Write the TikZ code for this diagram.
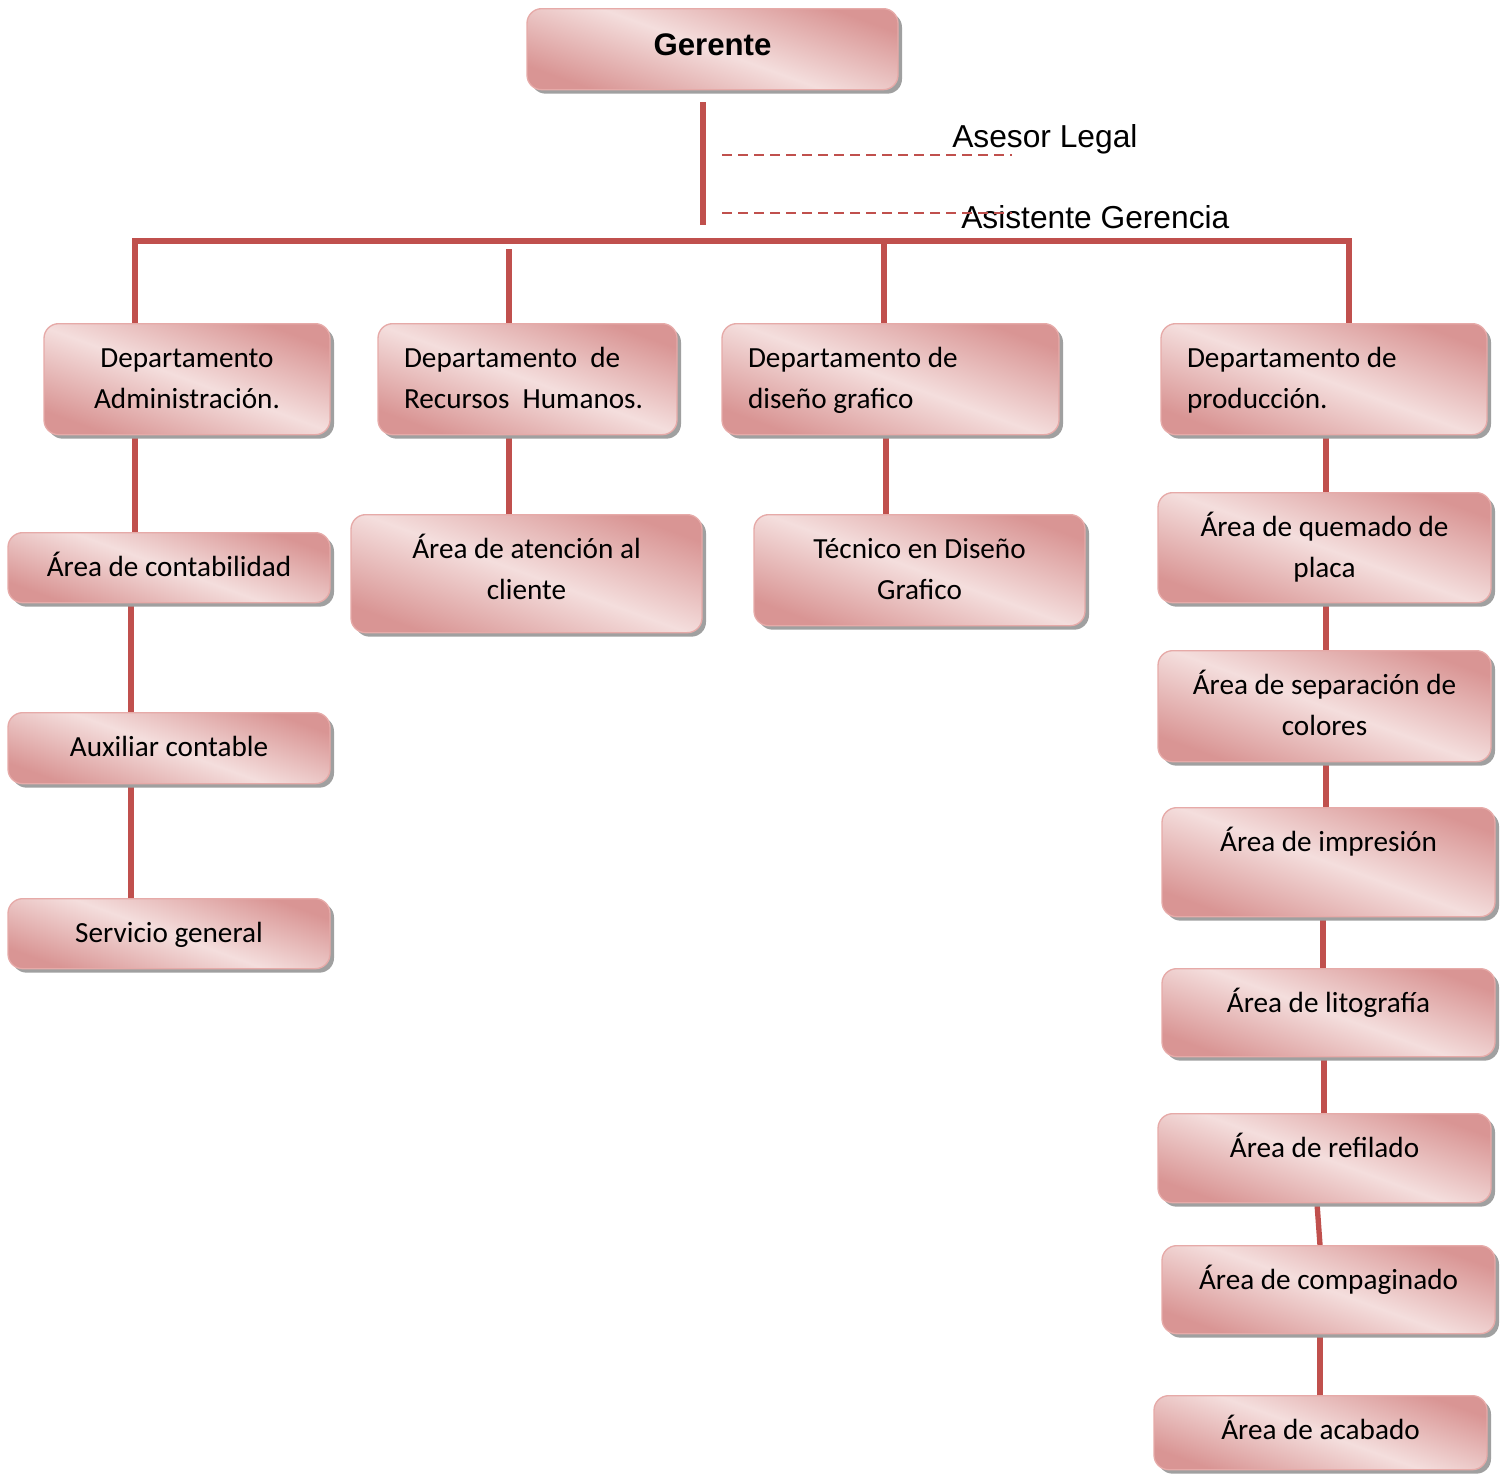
\documentclass[tikz,border=0pt]{standalone}
\usepackage{fontspec}
\setmainfont{Carlito}
\newfontfamily\arialfont{Liberation Sans}
\usepackage{xcolor}
\usetikzlibrary{shadows,backgrounds}

\definecolor{rosaosc}{RGB}{217,149,148}
\definecolor{rosaclaro}{RGB}{244,222,221}
\definecolor{rosaborde}{RGB}{230,170,168}
\definecolor{rojolinea}{RGB}{192,80,77}
\definecolor{sombra}{RGB}{160,160,160}

\tikzset{
  caja/.style 2 args={draw=rosaborde, line width=1pt, rounded corners=11pt,
    top color=rosaosc, bottom color=rosaosc, middle color=rosaclaro, shading angle=-20,
    drop shadow={shadow xshift=3pt, shadow yshift=-3pt, fill=sombra, opacity=1},
    anchor=north, inner xsep=0pt, inner ysep=0pt, align=flush center, text width=#1,
    font=\fontsize{21.9}{30.75}\selectfont,
    text height=33pt, minimum width=#1, text depth=#2},
  cajaizq/.style={align=flush left, text width=#1},
  linea/.style={draw=rojolinea, line width=4pt},
  asesoria/.style={draw=rojolinea, line width=2pt, dash pattern=on 7.5pt off 4.5pt},
  textoar/.style={font=\arialfont\fontsize{23.8}{28}\selectfont, inner sep=0pt}
}

\begin{document}
\begin{tikzpicture}[x=0.75pt,y=0.75pt,yscale=-1,xscale=1]
\useasboundingbox (0,0) rectangle (1504,1475);

% Gerente
\node[caja={278.25pt}{25.5pt}, text height=35.25pt, font=\arialfont\bfseries\fontsize{23.4}{28}\selectfont] (gerente) at (712.5,8) {Gerente};

% Asesoria
\node[textoar, anchor=base west] (asesor) at (952,147) {Asesor Legal};
\node[textoar, anchor=base west] (asistente) at (961,228) {Asistente Gerencia};

% Departamentos
\node[caja={214.5pt}{50.25pt}] (admin) at (187,323) {Departamento\\Administración.};
\node[caja={224.25pt}{50.25pt}, cajaizq=185.25pt] (rrhh) at (527.5,323) {Departamento~ de\\Recursos~ Humanos.};
\node[caja={252.75pt}{50.25pt}, cajaizq=213.75pt] (diseno) at (890.5,323) {Departamento de\\diseño grafico};
\node[caja={244.5pt}{50.25pt}, cajaizq=205.5pt] (produccion) at (1324,323) {Departamento de\\producción.};

% Administracion
\node[caja={241.5pt}{19.5pt}] (conta) at (169,532) {Área de contabilidad};
\node[caja={241.5pt}{20.25pt}] (auxiliar) at (169,712) {Auxiliar contable};
\node[caja={241.5pt}{19.5pt}] (servicio) at (169,898) {Servicio general};

% Recursos humanos y diseno
\node[caja={263.25pt}{55.5pt}] (atencion) at (526.5,514) {Área de atención al\\cliente};
\node[caja={248.25pt}{50.25pt}] (tecnico) at (919.5,514) {Técnico en Diseño\\Grafico};

% Produccion
\node[caja={249.75pt}{49.5pt}] (quemado) at (1324.5,492) {Área de quemado de\\placa};
\node[caja={249.75pt}{50.25pt}] (separacion) at (1324.5,650) {Área de separación de\\colores};
\node[caja={249.75pt}{48.75pt}] (impresion) at (1328.5,807) {Área de impresión};
\node[caja={249.75pt}{33pt}] (litografia) at (1328.5,968) {Área de litografía};
\node[caja={249.75pt}{33.75pt}] (refilado) at (1324.5,1113) {Área de refilado};
\node[caja={249.75pt}{33pt}] (compaginado) at (1328.5,1245) {Área de compaginado};
\node[caja={249.75pt}{22.5pt}] (acabado) at (1320.5,1395) {Área de acabado};

\coordinate (tronco) at (703,102);
\coordinate (troncofin) at (703,225);
\coordinate (bi) at (135,241);
\coordinate (bd) at (1349,241);

\begin{scope}[on background layer]
%Lineas
\draw[linea] (tronco) -- (troncofin);
\draw[linea] (admin.north -| bi) -- (bi) -- (bd) -- (produccion.north -| bd);
\draw[linea] (rrhh.north -| 509,0) -- (509,249);
\draw[linea] (diseno.north -| 884,0) -- (884,241);
\draw[linea] (admin.south -| 135,0) -- (conta.north -| 135,0);
\draw[linea] (conta.south -| 131,0) -- (auxiliar.north -| 131,0);
\draw[linea] (auxiliar.south -| 131,0) -- (servicio.north -| 131,0);
\draw[linea] (rrhh.south -| 509,0) -- (atencion.north -| 509,0);
\draw[linea] (diseno.south -| 886,0) -- (tecnico.north -| 886,0);
\draw[linea] (produccion.south -| 1326,0) -- (quemado.north -| 1326,0);
\draw[linea] (quemado.south -| 1326,0) -- (separacion.north -| 1326,0);
\draw[linea] (separacion.south -| 1326,0) -- (impresion.north -| 1326,0);
\draw[linea] (impresion.south -| 1323,0) -- (litografia.north -| 1323,0);
\draw[linea] (litografia.south -| 1324,0) -- (refilado.north -| 1324,0);
\draw[linea] (refilado.south -| 1317,0) -- (compaginado.north -| 1320,0);
\draw[linea] (compaginado.south -| 1320,0) -- (acabado.north -| 1320,0);
\end{scope}

%Lineas discontinuas
\coordinate (al1) at (722,155);
\coordinate (al2) at (1012,155);
\coordinate (ag1) at (722,213);
\coordinate (ag2) at (1012,213);
\draw[asesoria] (al1) -- (al2);
\draw[asesoria] (ag1) -- (ag2);

\end{tikzpicture}
\end{document}
